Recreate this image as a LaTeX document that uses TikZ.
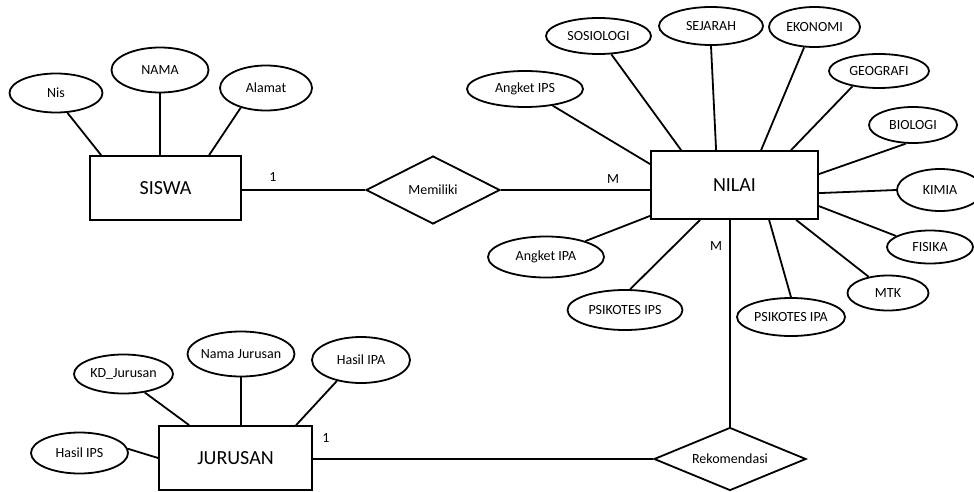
\documentclass[tikz,border=0pt]{standalone}
\usepackage{fontspec}
\setmainfont{Carlito}
\usetikzlibrary{shapes.geometric,calc}
\begin{document}
\begin{tikzpicture}[x=1pt,y=-1pt,
 attr/.style={ellipse,draw,line width=1.8pt,fill=white,inner sep=-6pt,font=\fontsize{14}{16}\selectfont},
 ent/.style={rectangle,draw,line width=1.8pt,fill=white,inner sep=0pt,font=\fontsize{20}{24}\selectfont},
 rel/.style={diamond,draw,line width=1.8pt,fill=white,inner sep=0pt,font=\fontsize{14}{16}\selectfont},
 conn/.style={line width=1.8pt},
 card/.style={inner sep=0pt,font=\fontsize{14}{16}\selectfont}]
\useasboundingbox (0,0) rectangle (974,492);
% SISWA
\node[ent, minimum width=151pt, minimum height=64pt] (siswa) at (165.5,188) {SISWA};
\node[attr, minimum width=93pt, minimum height=39pt] (nis) at (56,93) {Nis};
\node[attr, minimum width=97pt, minimum height=45pt] (nama) at (160,70) {NAMA};
\node[attr, minimum width=92pt, minimum height=45pt] (alamat) at (266,88) {Alamat};
\node[rel, aspect=2, minimum width=134pt, minimum height=68pt] (memiliki) at (433,190) {Memiliki};
% NILAI
\node[ent, minimum width=167pt, minimum height=68pt] (nilai) at (734.5,185) {NILAI};
\node[attr, minimum width=116pt, minimum height=36pt] (angips) at (525,89) {Angket IPS};
\node[attr, minimum width=105pt, minimum height=36pt] (sos) at (598.5,36) {SOSIOLOGI};
\node[attr, minimum width=104pt, minimum height=38pt] (sej) at (711,26) {SEJARAH};
\node[attr, minimum width=91pt, minimum height=40pt] (eko) at (814.5,27) {EKONOMI};
\node[attr, minimum width=100pt, minimum height=34pt] (geo) at (879,71) {GEOGRAFI};
\node[attr, minimum width=88pt, minimum height=36pt] (bio) at (913,125) {BIOLOGI};
\node[attr, minimum width=86pt, minimum height=42pt] (kim) at (940,190) {KIMIA};
\node[attr, minimum width=86pt, minimum height=33pt] (fis) at (930,247) {FISIKA};
\node[attr, minimum width=81pt, minimum height=35pt] (mtk) at (888,293) {MTK};
\node[attr, minimum width=108pt, minimum height=38pt] (psipa) at (791,317) {PSIKOTES IPA};
\node[attr, minimum width=115pt, minimum height=40pt] (psips) at (625,310) {PSIKOTES IPS};
\node[attr, minimum width=116pt, minimum height=41pt] (angipa) at (546,257) {Angket IPA};
% JURUSAN
\node[ent, minimum width=153pt, minimum height=64pt] (jur) at (235.5,458) {JURUSAN};
\node[attr, minimum width=99pt, minimum height=39pt] (kd) at (123.5,374) {KD\_Jurusan};
\node[attr, minimum width=107pt, minimum height=45pt] (namaj) at (241,354) {Nama Jurusan};
\node[attr, minimum width=98pt, minimum height=46pt] (hipa) at (361,360) {Hasil IPA};
\node[attr, minimum width=97pt, minimum height=41pt] (hips) at (79.5,453) {Hasil IPS};
\node[rel, aspect=2.4, minimum width=152pt, minimum height=63pt] (rek) at (730,459) {Rekomendasi};
% cardinalities
\node[card] (c1) at (273,177) {1};
\node[card] (c2) at (613,179) {M};
\node[card] (c3) at (716,246) {M};
\node[card] (c4) at (326,438) {1};
% connectors SISWA
\draw[conn] (nis.300) -- ($(siswa.north west)+(12,0)$);
\draw[conn] (nama.south) -- (nama.south |- siswa.north);
\draw[conn] (alamat.218) -- ($(siswa.north west)+(120,0)$);
\draw[conn] (siswa.east |- memiliki.west) -- (memiliki.west);
\draw[conn] (memiliki.east) -- (memiliki.east -| nilai.west);
% connectors NILAI
\draw[conn] (angips.329) -- ($(nilai.north west)+(0,14)$);
\draw[conn] (sos.305) -- ($(nilai.north west)+(31,0)$);
\draw[conn] (sej.south) -- ($(nilai.north west)+(66,0)$);
\draw[conn] (eko.243) -- ($(nilai.north west)+(111,0)$);
\draw[conn] (geo.210) -- ($(nilai.north west)+(141,0)$);
\draw[conn] (bio.249) -- ($(nilai.north east)+(0,24)$);
\draw[conn] (kim.west) -- ($(nilai.north east)+(0,43)$);
\draw[conn] (fis.162) -- ($(nilai.north east)+(0,56)$);
\draw[conn] (mtk.140) -- ($(nilai.south west)+(146,0)$);
\draw[conn] (psipa.north) -- ($(nilai.south west)+(119,0)$);
\draw[conn] (psips.76) -- ($(nilai.south west)+(50,0)$);
\draw[conn] (angipa.22) -- ($(nilai.south west)+(0,-4)$);
\draw[conn] (rek.north) -- (rek.north |- nilai.south);
% connectors JURUSAN
\draw[conn] (kd.319) -- ($(jur.north west)+(31,0)$);
\draw[conn] (namaj.south) -- (namaj.south |- jur.north);
\draw[conn] (hipa.221) -- ($(jur.north west)+(138,0)$);
\draw[conn] (hips.5) -- (jur.west);
\draw[conn] (jur.east |- rek.west) -- (rek.west);
\end{tikzpicture}
\end{document}
